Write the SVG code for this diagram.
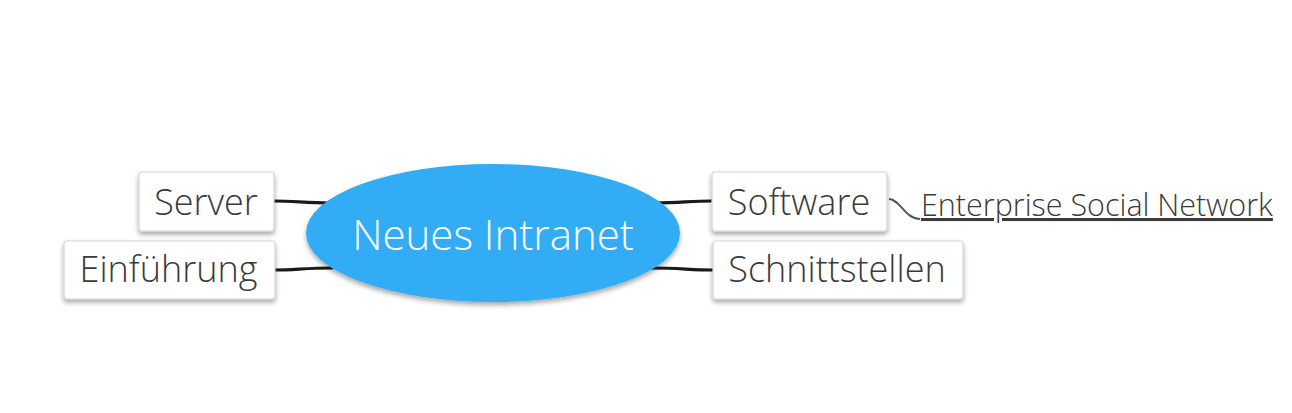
<svg xmlns="http://www.w3.org/2000/svg" width="1292" height="413" viewBox="0 0 1292 413">
<defs>
<filter id="sh" x="-20%" y="-20%" width="140%" height="160%">
<feGaussianBlur in="SourceAlpha" stdDeviation="2.5"/>
<feOffset dx="0" dy="3" result="b"/>
<feComponentTransfer><feFuncA type="linear" slope="0.35"/></feComponentTransfer>
<feMerge><feMergeNode/><feMergeNode in="SourceGraphic"/></feMerge>
</filter>
</defs>
<style>
.box{fill:#fff;stroke:#d4d4d4;stroke-width:1.2}
.lbl{font-family:"Open Sans","Liberation Sans",sans-serif;font-weight:300;font-size:36px;fill:#3a3a3a}
.con{fill:none;stroke:#1a1a1a;stroke-width:3.2;stroke-linecap:round}
</style>
<rect width="1292" height="413" fill="#fff"/>
<g id="connectors">
<path class="con" d="M274 201 C295 201 305 203 330 203"/>
<path class="con" d="M275 270 C295 270 305 268 332 268"/>
<path class="con" d="M655 203 C680 203 690 201 712 201"/>
<path class="con" d="M652 268 C680 268 690 270 713 270"/>
<path d="M889 199 C900 199 905 219 920 219" fill="none" stroke="#555" stroke-width="2"/>
</g>
<g id="center">
<ellipse cx="493" cy="233" rx="187" ry="69" fill="#30adf5" filter="url(#sh)"/>
<text x="493" y="250" text-anchor="middle" font-family="'Open Sans','Liberation Sans',sans-serif" font-weight="300" font-size="42" fill="#fff">Neues Intranet</text>
</g>
<g id="server">
<rect class="box" x="139" y="172" width="135" height="59" rx="3" filter="url(#sh)"/>
<text class="lbl" x="206" y="215" text-anchor="middle">Server</text>
</g>
<g id="einfuehrung">
<rect class="box" x="64" y="241" width="211" height="58" rx="3" filter="url(#sh)"/>
<text class="lbl" x="168.5" y="282" text-anchor="middle">Einführung</text>
</g>
<g id="software">
<rect class="box" x="712" y="172" width="175" height="59" rx="3" filter="url(#sh)"/>
<text class="lbl" x="799" y="215" text-anchor="middle">Software</text>
</g>
<g id="schnittstellen">
<rect class="box" x="713" y="241" width="250" height="58" rx="3" filter="url(#sh)"/>
<text class="lbl" x="837" y="282" text-anchor="middle">Schnittstellen</text>
</g>
<g id="esn">
<text x="921" y="216" font-family="'Open Sans','Liberation Sans',sans-serif" font-weight="300" font-size="30.5" fill="#3a3a3a" text-decoration="underline">Enterprise Social Network</text>
</g>
</svg>
